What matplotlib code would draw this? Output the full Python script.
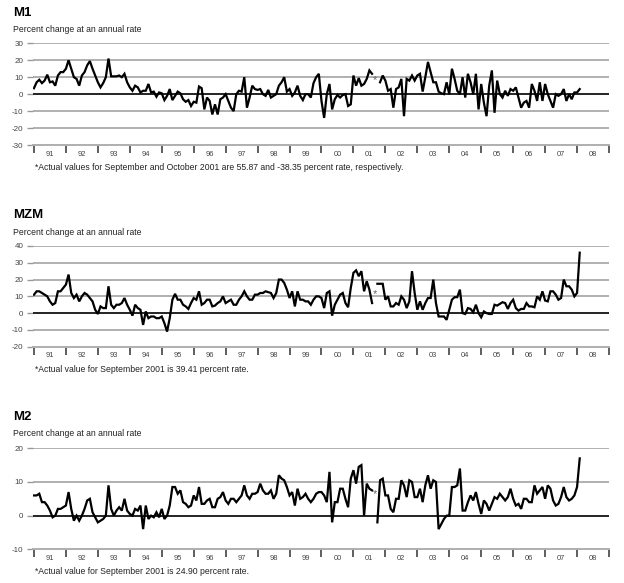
import matplotlib
matplotlib.use('Agg')
import matplotlib.pyplot as plt
import numpy as np

plt.rcParams['font.family'] = ['Liberation Sans', 'DejaVu Sans']

nan = np.nan

# monthly growth rates, Jan 1991 .. Feb 2008
m1 = [
    3.5, 7, 8.5, 6.5, 8, 11.5, 7, 7.5, 5, 11, 13, 13,          # 91
    15, 20, 15, 10, 9, 5, 11, 13, 17, 19.5, 15, 11,            # 92
    7, 4, 6.5, 10, 21, 10.5, 10.5, 10.5, 11, 10, 12, 7,        # 93
    4, 2, 5, 4, 1, 2, 2, 6, 1, 1.5, -1.5, 1,                   # 94
    0.5, -3.5, -1, 3, -3.5, -1, 1.5, 0.5, -3, -4.5, -3.5, -7,  # 95
    -4.5, -5, 4.5, 3.5, -9, -2, -4, -12, -6, -12, -3, -2,      # 96
    0, -4, -8, -10, 0, 2, 1.5, 10, -8, -2, 5, 3,               # 97
    2.5, 3, 0, -1, 2.5, -2, -1, 0, 5, 7, 10, 1.5,              # 98
    3, -1, 1, 5, -1, -3.5, 0, 0, -2, 6.5, 10, 12,              # 99
    -4, -14, 0, 6, -9, -3, -0.5, -2, -0.5, 0, -7, -6,          # 00
    11, 5, 9.5, 5, 6, 9, 14, 12, nan, nan, 7, 11,              # 01
    8, 2, 3, -8, 3, 4, 9, -13, 9, 8, 11, 8,                    # 02
    11, 12, 1.5, 10, 19, 13, 7, 7, 1.5, 0.5, 0, 7,             # 03
    0, 15, 9, 2, 0, 10, -2, 12, 7, 0, 12, -9,                  # 04
    6, -5, -13, 5, 14, -11, 8, 0, -2, 2, -1, 3,                # 05
    2, 4, -2, -8, -5, -4, -8, 6, 2, -4, 7, -4,                 # 06
    6, 0, -4, -8, 0, -1, 0, 3, -4, 0, -3, 1,                   # 07
    1, 3,                                                      # 08
]

mzm = [
    11, 13, 13, 12, 11, 10, 7, 5, 6, 13, 13, 15,
    17, 23, 12, 9, 11, 7, 10, 12, 11, 9, 7, 2,
    -0.5, 4, 3, 3, 16, 5, 3, 5, 5, 6, 9, 5,
    2, -1.5, 5, 3, 2, -7, 1, -3, -2, -2, -3, -3,
    -2, -6, -11, -3, 8, 11.5, 8, 8, 5, 4, 2.5, 6,
    9, 8, 13, 5, 6, 8, 8, 4, 4.5, 6, 7, 10,
    6, 7, 8, 5, 5, 8, 10, 13, 10, 8, 8, 11,
    11, 12, 12, 13, 12.5, 12, 9, 12, 20, 20, 18, 14,
    9, 13, 4, 13, 8, 8, 7, 7, 5, 8, 10, 10,
    9, 3, 12, 13, -1.5, 5, 8, 11, 12, 6, 3.5, 15,
    24, 25.5, 22, 25, 13, 19, 14, 6, nan, 17.5, 17.5, 17.5,
    8, 10, 4, 4, 6, 5, 10, 8, 3, 7, 25, 12,
    2, 7, 2, 6, 9, 9, 20, 6, -2, -2, -2, -4,
    2, 8, 9.5, 9.5, 14, 0, -0.5, 3, 2.5, 0.5, 5, 0,
    -2.5, 1, 0, -0.5, -0.5, 5, 4.5, 5.5, 6.5, 6, 2.5, 6,
    8, 3, 1.5, 2.5, 2.5, 6, 4, 4, 3.5, 10, 8, 13,
    7.5, 7, 13, 13, 11, 8, 9, 20, 16, 16, 14, 10,
    12, 36,
]

m2 = [
    6, 6, 6.5, 4, 4, 3, 1.5, -0.5, 0, 2, 2, 2.5,
    3, 7, 2, -1.5, 0, -1.5, 0, 2, 4.5, 5, 1, -0.5,
    -2, -1.5, -1, 0, 9, 2, 0, 1.5, 2.5, 1.5, 5, 1.5,
    0.5, 0, 2, 1.5, 3, -4, 3, -1, 0, -0.5, 1, -0.5,
    2, -1, 0, 3, 8.5, 8.5, 6.5, 7.5, 4, 3.5, 2.5, 3,
    6, 4.5, 8.5, 3.5, 3.5, 4.5, 5, 2.5, 2.5, 5, 5.5, 7,
    4.5, 3.5, 5, 5, 4, 5, 6, 9, 6, 5, 6.5, 6.5,
    7, 9.5, 7.5, 6.5, 6.5, 7.5, 5, 6.5, 12, 11, 10.5, 8.5,
    6, 7, 3, 8, 5, 5.5, 6.5, 5, 4, 5, 6.5, 7,
    7, 6, 4, 13, -2, 4, 4, 8, 8, 5, 2.5, 11,
    13.5, 9.5, 14.5, 15, 0, 9.5, 8, 7.5, nan, -2, 10.5, 11,
    6, 6, 2, 1, 5, 5, 10.5, 9, 5.5, 10.5, 10, 5.5,
    5.5, 8, 4, 9, 12, 8, 10.5, 10, -4, -2.5, -1, 0,
    0, 8.5, 8.5, 9, 14, 1.5, 1.5, 4, 6, 4.5, 7, 3.5,
    0.5, 4.5, 3.5, 1.5, 3.5, 5.5, 5, 6.5, 5.5, 4.5, 5.5, 8,
    5, 3, 3.5, 2, 5, 5, 4, 4, 9, 6.5, 7.5, 8.5,
    5, 9, 8, 4.5, 3, 3.5, 5.5, 8.5, 5.5, 4.5, 5, 6,
    8.5, 17,
]

# where the "*" marks sit (Sep 2001)
star_vals = [8.5, 11.5, 6.3]

year_labels = ['91', '92', '93', '94', '95', '96', '97', '98', '99',
               '00', '01', '02', '03', '04', '05', '06', '07', '08']

titles = ['M1', 'MZM', 'M2']
notes = [
    '*Actual values for September and October 2001 are 55.87 and -38.35 percent rate, respectively.',
    '*Actual value for September 2001 is 39.41 percent rate.',
    '*Actual value for September 2001 is 24.90 percent rate.',
]
y_ticks = [range(-30, 31, 10), range(-20, 41, 10), range(-10, 21, 10)]

series = [m1, mzm, m2]

# layout in pixels (from top)
H = 583.0
W = 624.0
ax_top = [43.3, 246.0, 448.3]
ax_bot = [145.0, 346.7, 549.3]
title_y = [13, 215, 417]
sub_y = [29, 232, 434]
note_y = [167, 370, 572]

fig = plt.figure(figsize=(6.24, 5.83), dpi=100)
fig.patch.set_facecolor('white')

for k in range(3):
    vals = np.array(series[k], dtype=float)
    t = 1991 + np.arange(len(vals)) / 12.0

    ax = fig.add_axes([33 / W, 1 - ax_bot[k] / H, 576 / W,
                       (ax_bot[k] - ax_top[k]) / H])
    yt = list(y_ticks[k])
    ax.set_ylim(yt[0], yt[-1])
    ax.set_xlim(1991 - 0.03, 2009)
    ax.set_yticks(yt)
    ax.set_yticklabels([str(v) for v in yt])
    ax.yaxis.grid(True, color='#b0b0b0', lw=1.4)
    ax.set_axisbelow(True)
    for s in ax.spines.values():
        s.set_visible(False)
    ax.axhline(0, color='black', lw=1.1, zorder=2)
    ax.plot(t, vals, color='black', lw=1.6, zorder=3, solid_joinstyle='miter')
    ax.text(2001 + 8 / 12.0, star_vals[k], '*', color='#666666', fontsize=8,
            ha='center', va='center', zorder=4)

    ax.tick_params(axis='y', direction='out', length=4, width=1,
                   color='#999999', labelsize=5.8, labelcolor='#444444', pad=3)
    ax.set_xticks(np.arange(1991, 2010))
    ax.set_xticklabels([])
    ax.set_xticks(np.arange(1991, 2009) + 0.5, minor=True)
    ax.set_xticklabels(year_labels, minor=True)
    ax.tick_params(axis='x', which='major', direction='out', length=5.5,
                   width=1.1, color='#333333')
    ax.tick_params(axis='x', which='minor', length=0, labelsize=5.4,
                   labelcolor='#444444', pad=4)
    # bottom gridline acts as the axis line
    ax.axhline(yt[0], color='#b0b0b0', lw=1.4, zorder=1, clip_on=False)

    fig.text(13 / W, 1 - title_y[k] / H, titles[k], fontsize=9.5,
             weight='bold', ha='left', va='center')
    fig.text(13 / W, 1 - sub_y[k] / H, 'Percent change at an annual rate',
             fontsize=6.2, ha='left', va='center', color='#222222')
    fig.text(35 / W, 1 - note_y[k] / H, notes[k], fontsize=6.2,
             ha='left', va='center', color='#222222')

plt.savefig('out.png', dpi=100, facecolor='white')
plt.close()
